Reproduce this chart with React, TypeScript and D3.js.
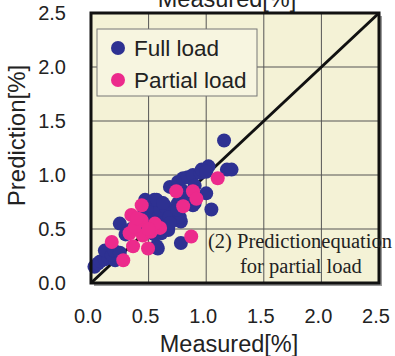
import React from "react";
import * as d3 from "d3";

const xTicks = [0, 0.5, 1.0, 1.5, 2.0, 2.5];
const yTicks = [0, 0.5, 1.0, 1.5, 2.0, 2.5];

const fullLoad: [number, number][] = [
  [0.03, 0.15], [0.06, 0.18], [0.08, 0.2], [0.12, 0.22], [0.15, 0.24], [0.21, 0.21],
  [0.12, 0.3], [0.18, 0.26], [0.2, 0.3], [0.25, 0.28], [0.25, 0.55], [0.3, 0.45], [0.35, 0.5],
  [0.4, 0.55], [0.45, 0.62], [0.47, 0.77], [0.5, 0.65], [0.525, 0.71], [0.55, 0.77], [0.61, 0.74],
  [0.64, 0.71], [0.585, 0.61], [0.73, 0.61], [0.78, 0.57], [0.67, 0.55], [0.61, 0.46],
  [0.7, 0.58], [0.67, 0.49], [0.6, 0.68], [0.65, 0.7], [0.57, 0.77], [0.625, 0.74],
  [0.68, 0.61], [0.77, 0.61], [0.685, 0.555], [0.685, 0.89], [0.755, 0.74], [0.755, 0.935],
  [0.8, 0.97], [0.84, 0.98], [0.83, 0.8], [0.9, 0.74], [0.885, 0.72], [0.885, 1.0], [0.95, 1.02],
  [0.96, 1.05], [1.02, 1.08], [1.0, 1.03], [1.0, 0.83], [1.045, 0.68], [1.18, 1.05], [1.22, 1.05],
  [1.155, 1.32], [0.78, 0.37], [0.58, 0.32], [0.57, 0.34], [0.55, 0.45], [0.75, 0.68],
  [0.8, 0.85], [0.9, 0.9], [0.55, 0.56], [0.45, 0.5],
];

const partialLoad: [number, number][] = [
  [0.28, 0.21], [0.18, 0.38], [0.365, 0.34], [0.495, 0.32], [0.335, 0.46], [0.45, 0.44],
  [0.52, 0.475], [0.6, 0.51], [0.35, 0.63], [0.44, 0.72], [0.44, 0.58], [0.555, 0.55],
  [0.38, 0.52], [0.4, 0.6], [0.74, 0.85], [0.885, 0.85], [0.915, 0.78], [0.8, 0.71],
  [0.87, 0.43], [1.1, 0.97], [0.5, 0.5],
];

const legendLabels = ["Full load", "Partial load"];
const BLUE = "#2e3192";
const PINK = "#ec2a8c";
const BG = "#f4f2d6";

export default function App() {
  const left = 91, right = 379, top = 13, bottom = 283;
  const x = d3.scaleLinear().domain([0, 2.5]).range([left, right]);
  const y = d3.scaleLinear().domain([0, 2.5]).range([bottom, top]);
  const line = d3.line<[number, number]>().x((d) => x(d[0])).y((d) => y(d[1]));
  const sans = "'Liberation Sans', Arial, sans-serif";
  const serif = "'Liberation Serif', 'Times New Roman', serif";
  return (
    <svg width={395} height={356} style={{ position: "absolute", left: 0, top: 0 }}>
      <rect x={0} y={0} width={395} height={356} fill="#ffffff" />
      <rect x={left + 3} y={top + 3} width={right - left} height={bottom - top} fill="#9a9a9a" />
      <rect x={left} y={top} width={right - left} height={bottom - top} fill={BG} />
      {xTicks.slice(1, -1).map((t) => (
        <line key={"gx" + t} x1={x(t)} x2={x(t)} y1={top} y2={bottom} stroke="#555" strokeWidth={1} />
      ))}
      {yTicks.slice(1, -1).map((t) => (
        <line key={"gy" + t} x1={left} x2={right} y1={y(t)} y2={y(t)} stroke="#555" strokeWidth={1} />
      ))}
      <path d={line([[0, 0], [2.5, 2.5]]) || ""} stroke="#111" strokeWidth={3} fill="none" />
      {fullLoad.map((d, i) => (
        <circle key={"b" + i} cx={x(d[0])} cy={y(d[1])} r={7} fill={BLUE} />
      ))}
      {partialLoad.map((d, i) => (
        <circle key={"p" + i} cx={x(d[0])} cy={y(d[1])} r={7} fill={PINK} />
      ))}
      <rect x={left} y={top} width={right - left} height={bottom - top} fill="none" stroke="#111" strokeWidth={3} />
      {/* legend */}
      <rect x={97} y={29} width={160} height={67} fill="#f7f5e0" stroke="#777" strokeWidth={1} />
      <circle cx={118} cy={48} r={7} fill={BLUE} />
      <circle cx={118} cy={80} r={7} fill={PINK} />
      <text x={134} y={56} fontFamily={sans} fontSize={22.5} fill="#222">{legendLabels[0]}</text>
      <text x={134} y={88} fontFamily={sans} fontSize={22.5} fill="#222">{legendLabels[1]}</text>
      {/* annotation */}
      <text x={208} y={248} fontFamily={serif} fontSize={20.5} fill="#222">(2) Predictionequation</text>
      <text x={240} y={273} fontFamily={serif} fontSize={20.5} fill="#222">for partial load</text>
      {/* ticks */}
      {xTicks.map((t) => (
        <text key={"tx" + t} x={x(t) - 3} y={323} textAnchor="middle" fontFamily={sans} fontSize={20} fill="#222">
          {t.toFixed(1)}
        </text>
      ))}
      {yTicks.map((t) => (
        <text key={"ty" + t} x={66} y={y(t) + 7} textAnchor="end" fontFamily={sans} fontSize={20} fill="#222">
          {t.toFixed(1)}
        </text>
      ))}
      <text x={229} y={352} textAnchor="middle" fontFamily={sans} fontSize={23.5} fill="#222">Measured[%]</text>
      <text x={227} y={7} textAnchor="middle" fontFamily={sans} fontSize={23.5} fill="#222">Measured[%]</text>
      <text transform="translate(25,135.5) rotate(-90)" textAnchor="middle" fontFamily={sans} fontSize={24} fill="#222">
        Prediction[%]
      </text>
    </svg>
  );
}
